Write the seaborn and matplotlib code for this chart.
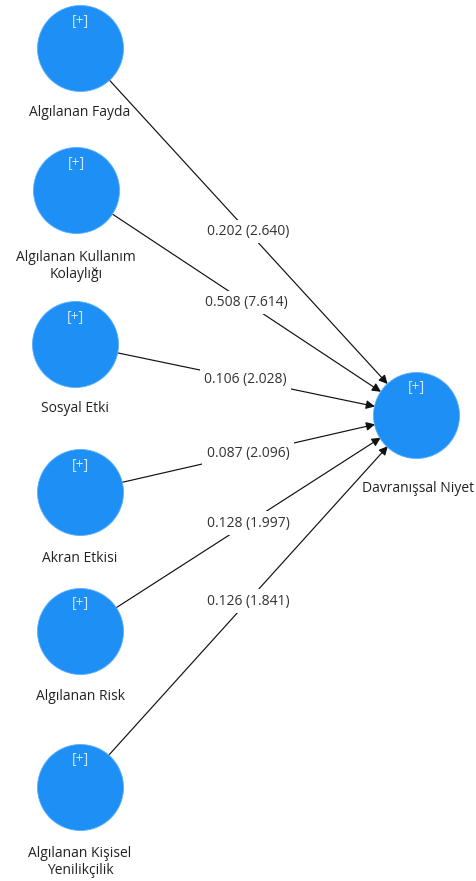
import numpy as np
import pandas as pd
import matplotlib
matplotlib.use("Agg")
import matplotlib.pyplot as plt
import seaborn as sns

# ---- data ----
source_names = ["Algılanan Fayda", "Algılanan Kullanım\nKolaylığı", "Sosyal Etki",
                "Akran Etkisi", "Algılanan Risk", "Algılanan Kişisel\nYenilikçilik"]
target_name = "Davranışsal Niyet"
path_coef = [0.202, 0.508, 0.106, 0.087, 0.128, 0.126]
t_values = [2.640, 7.614, 2.028, 2.096, 1.997, 1.841]

# ---- layout (pixel positions of node centres) ----
src_x = [80, 76, 75, 80, 80, 80]
src_y = [48, 190, 344, 492, 631, 787]
src_label_y = [113, 266, 408, 558, 697, 862]
tgt_x, tgt_y = 416, 415
tgt_label_y = 489
R = 43

W, H, DPI = 476, 881, 100
sns.set_style("white")
plt.rcParams['font.family'] = ['Open Sans', 'DejaVu Sans']

fig = plt.figure(figsize=(W / DPI, H / DPI), dpi=DPI)
ax = fig.add_axes([0, 0, 1, 1])

nodes = pd.DataFrame({
    "name": source_names + [target_name],
    "x": src_x + [tgt_x],
    "y": src_y + [tgt_y],
})
diam_pt = 2 * R * 72 / DPI
sns.scatterplot(data=nodes, x="x", y="y", s=diam_pt ** 2, color="#1E8FF5",
                edgecolor="#5AB0FF", linewidth=0.6, ax=ax, zorder=3, legend=False)
ax.set_xlim(0, W)
ax.set_ylim(H, 0)
ax.set_aspect('equal')
ax.axis('off')

# edges
for sx, sy, c, t in zip(src_x, src_y, path_coef, t_values):
    dx, dy = tgt_x - sx, tgt_y - sy
    d = np.hypot(dx, dy)
    ux, uy = dx / d, dy / d
    start = (sx + ux * R, sy + uy * R)
    end = (tgt_x - ux * (R - 1), tgt_y - uy * (R - 1))
    ax.annotate("", xy=end, xytext=start,
                arrowprops=dict(arrowstyle='-|>', color='#111111', lw=0.85,
                                mutation_scale=13, shrinkA=0, shrinkB=0),
                zorder=2)
    mx, my = (sx + tgt_x) / 2, (sy + tgt_y) / 2
    ax.text(mx, my, f"{c:.3f} ({t:.3f})", ha='center', va='center',
            fontsize=10, color='#333333', zorder=4,
            bbox=dict(boxstyle='square,pad=0.3', fc='white', ec='none'))

# node labels
for x, y, ly, name in zip(src_x, src_y, src_label_y, source_names):
    ax.text(x, ly, name, ha='center', va='center', fontsize=10, color='#222222',
            linespacing=1.25, zorder=4)
    ax.text(x, y - R + 16, "[+]", ha='center', va='center', fontsize=10,
            color='#CFE8FF', zorder=5)
ax.text(tgt_x + 2, tgt_label_y, target_name, ha='center', va='center', fontsize=10,
        color='#222222', zorder=4)
ax.text(tgt_x, tgt_y - R + 16, "[+]", ha='center', va='center', fontsize=10,
        color='#CFE8FF', zorder=5)

fig.savefig("out.png", dpi=DPI, facecolor='white')
